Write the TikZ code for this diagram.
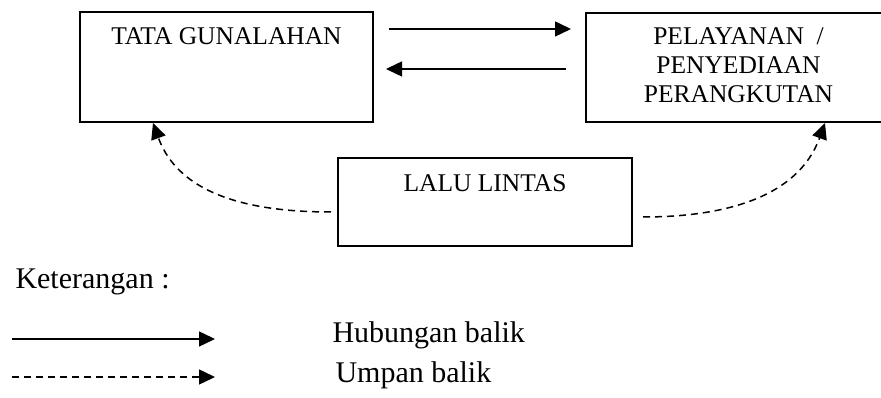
\documentclass[tikz,border=0pt]{standalone}
\usepackage{fontspec}
\setmainfont{Liberation Serif}
\usetikzlibrary{arrows.meta}

\begin{document}
\begin{tikzpicture}[x=0.4pt,y=-0.4pt,
  kotak/.style={draw,line width=0.8pt,inner sep=0pt},
  teks/.style={inner sep=0pt,font=\fontsize{10.2}{11.6}\selectfont,align=center},
  ket/.style={inner sep=0pt,font=\fontsize{12}{14}\selectfont},
  hub/.style={line width=0.6pt,-{Triangle[length=6.4pt,width=6pt]}},
  umpan/.style={hub,dash pattern=on 2.8pt off 2pt}]
\clip (0,0) rectangle (881,398);
\node[kotak,minimum width=117.2pt,minimum height=44pt] (tg) at (226.5,67) {};
\node[kotak,minimum width=122pt,minimum height=43.6pt] (pp) at (738.5,67.5) {};
\node[kotak,minimum width=117.6pt,minimum height=35.2pt] (ll) at (485,202) {};
\node[teks,anchor=base] (tgt) at (226.5,45) {TATA GUNALAHAN};
\node[teks,anchor=base] (ppt) at (738.5,103) {PELAYANAN~~/\\PENYEDIAAN\\PERANGKUTAN};
\node[teks,anchor=base] (llt) at (485,192) {LALU LINTAS};
% hubungan balik
\draw[hub] ([xshift=6pt,yshift=15.2pt]tg.east) -- ([xshift=-5.6pt,yshift=15.2pt]tg.east -| pp.west);
\draw[hub] ([xshift=-7.6pt,yshift=-0.8pt]pp.west |- tg.east) -- ([xshift=4.8pt,yshift=-0.8pt]tg.east);
% umpan balik
\draw[umpan] ([xshift=-2.4pt,yshift=-4pt]ll.west) to[out=180,in=-70] ([xshift=-29.4pt]tg.south);
\draw[umpan] ([xshift=4pt,yshift=-6pt]ll.east) to[out=0,in=-110] ([xshift=34.6pt]pp.south);
% keterangan
\node[ket,anchor=base west] (ket) at (15,289) {Keterangan :};
\coordinate (a1) at (12,339);
\coordinate (a2) at (215,339);
\coordinate (b1) at (12,377);
\coordinate (b2) at (215,377);
\draw[hub] (a1) -- (a2);
\draw[umpan] (b1) -- (b2);
\node[ket,anchor=base west] (hb) at (332,343) {Hubungan balik};
\node[ket,anchor=base west] (ub) at (335,383) {Umpan balik};
\end{tikzpicture}
\end{document}
